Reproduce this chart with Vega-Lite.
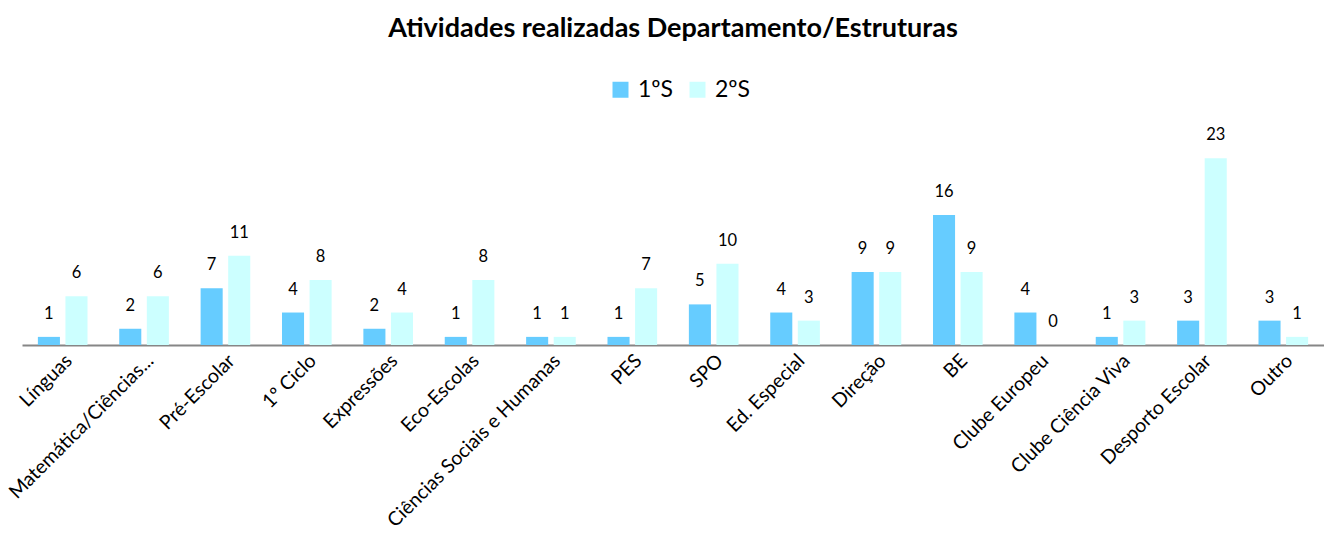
{
  "$schema": "https://vega.github.io/schema/vega-lite/v6.json",
  "width": 1302,
  "height": 203,
  "autosize": {"type": "none"},
  "padding": {"left": 22, "top": 142, "right": 0, "bottom": 193},
  "background": "white",
  "config": {"view": {"stroke": null}},
  "title": {
    "text": "Atividades realizadas Departamento/Estruturas",
    "font": "Lato",
    "fontSize": 27,
    "fontWeight": "bold",
    "color": "#000000",
    "anchor": "middle",
    "offset": 35
  },
  "data": {
    "values": [
      {"cat": "Línguas", "sem": "1ºS", "v": 1}, {"cat": "Línguas", "sem": "2ºS", "v": 6},
      {"cat": "Matemática/Ciências...", "sem": "1ºS", "v": 2}, {"cat": "Matemática/Ciências...", "sem": "2ºS", "v": 6},
      {"cat": "Pré-Escolar", "sem": "1ºS", "v": 7}, {"cat": "Pré-Escolar", "sem": "2ºS", "v": 11},
      {"cat": "1º Ciclo", "sem": "1ºS", "v": 4}, {"cat": "1º Ciclo", "sem": "2ºS", "v": 8},
      {"cat": "Expressões", "sem": "1ºS", "v": 2}, {"cat": "Expressões", "sem": "2ºS", "v": 4},
      {"cat": "Eco-Escolas", "sem": "1ºS", "v": 1}, {"cat": "Eco-Escolas", "sem": "2ºS", "v": 8},
      {"cat": "Ciências Sociais e Humanas", "sem": "1ºS", "v": 1}, {"cat": "Ciências Sociais e Humanas", "sem": "2ºS", "v": 1},
      {"cat": "PES", "sem": "1ºS", "v": 1}, {"cat": "PES", "sem": "2ºS", "v": 7},
      {"cat": "SPO", "sem": "1ºS", "v": 5}, {"cat": "SPO", "sem": "2ºS", "v": 10},
      {"cat": "Ed. Especial", "sem": "1ºS", "v": 4}, {"cat": "Ed. Especial", "sem": "2ºS", "v": 3},
      {"cat": "Direção", "sem": "1ºS", "v": 9}, {"cat": "Direção", "sem": "2ºS", "v": 9},
      {"cat": "BE", "sem": "1ºS", "v": 16}, {"cat": "BE", "sem": "2ºS", "v": 9},
      {"cat": "Clube Europeu", "sem": "1ºS", "v": 4}, {"cat": "Clube Europeu", "sem": "2ºS", "v": 0},
      {"cat": "Clube Ciência Viva", "sem": "1ºS", "v": 1}, {"cat": "Clube Ciência Viva", "sem": "2ºS", "v": 3},
      {"cat": "Desporto Escolar", "sem": "1ºS", "v": 3}, {"cat": "Desporto Escolar", "sem": "2ºS", "v": 23},
      {"cat": "Outro", "sem": "1ºS", "v": 3}, {"cat": "Outro", "sem": "2ºS", "v": 1}
    ]
  },
  "encoding": {
    "x": {
      "field": "cat",
      "type": "nominal",
      "sort": null,
      "title": null,
      "scale": {"paddingInner": 0.39, "paddingOuter": 0.195},
      "axis": {
        "labelAngle": -45,
        "labelFont": "Lato",
        "labelFontSize": 19.5,
        "labelColor": "#000000",
        "labelPadding": 6,
        "labelLimit": 400,
        "ticks": false,
        "domainColor": "#868686",
        "domainWidth": 2
      }
    },
    "xOffset": {"field": "sem", "type": "nominal", "scale": {"paddingInner": 0.2, "paddingOuter": 0}},
    "y": {
      "field": "v",
      "type": "quantitative",
      "scale": {"domain": [0, 25], "nice": false},
      "axis": null
    }
  },
  "layer": [
    {
      "mark": {"type": "bar"},
      "encoding": {
        "color": {
          "field": "sem",
          "type": "nominal",
          "scale": {"domain": ["1ºS", "2ºS"], "range": ["#66CCFF", "#CCFFFF"]},
          "legend": {
            "title": null,
            "orient": "none",
            "legendX": 587,
            "legendY": -64,
            "direction": "horizontal",
            "symbolType": "square",
            "symbolSize": 256,
            "symbolStrokeWidth": 0,
            "labelFont": "Lato",
            "labelFontSize": 23,
            "labelColor": "#000000",
            "labelOffset": 6,
            "columnPadding": 12
          }
        }
      }
    },
    {
      "mark": {"type": "text", "baseline": "bottom", "dy": -15, "font": "Lato", "fontSize": 16.5, "color": "#000000"},
      "encoding": {"text": {"field": "v", "type": "quantitative"}}
    }
  ]
}
